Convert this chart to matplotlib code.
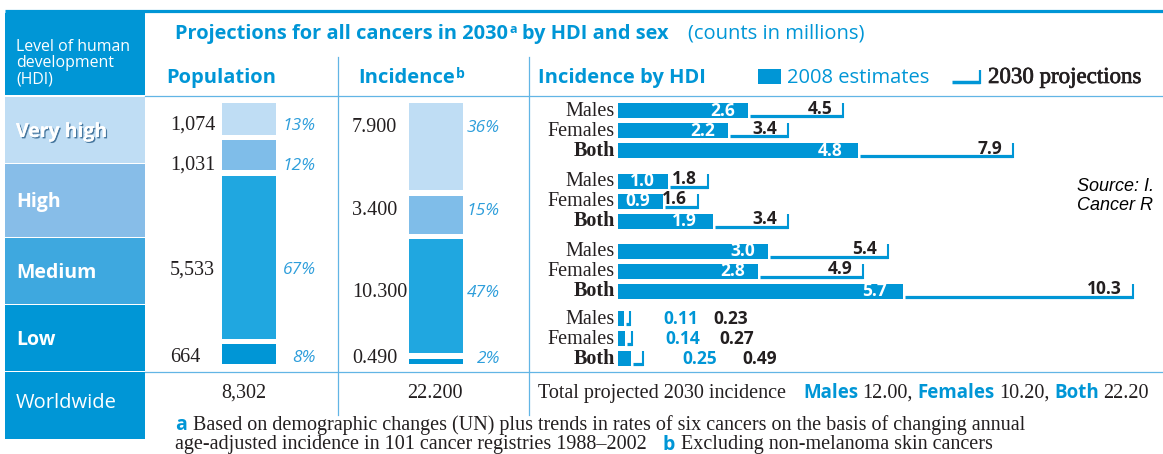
import matplotlib
matplotlib.use('Agg')
import matplotlib.pyplot as plt
import matplotlib.patheffects as pe
from matplotlib.patches import Rectangle
from matplotlib.transforms import blended_transform_factory

# -------------------------------------------------------------------
# DATA (counts in millions)
# -------------------------------------------------------------------
hdi_levels = ['Very high', 'High', 'Medium', 'Low']

pop_values = [1074, 1031, 5533, 664]
pop_labels = ['1,074', '1,031', '5,533', '664']
pop_share = ['13%', '12%', '67%', '8%']
pop_total = '8,302'

inc_values = [7.9, 3.4, 10.3, 0.49]
inc_labels = ['7.900', '3.400', '10.300', '0.490']
inc_share = ['36%', '15%', '47%', '2%']
inc_total = '22.200'

sexes = ['Males', 'Females', 'Both']
males_2008 = [2.6, 1.0, 3.0, 0.11]
females_2008 = [2.2, 0.9, 2.8, 0.14]
both_2008 = [4.8, 1.9, 5.7, 0.25]
males_2030 = [4.5, 1.8, 5.4, 0.23]
females_2030 = [3.4, 1.6, 4.9, 0.27]
both_2030 = [7.9, 3.4, 10.3, 0.49]

total_names = ['Males', 'Females', 'Both']
total_values = ['12.00', '10.20', '22.20']

# -------------------------------------------------------------------
# LAYOUT / STYLE
# -------------------------------------------------------------------
W, H = 1163, 454
BLUE = '#0096D6'
LINE = '#62B5E5'
INK = '#231F20'
PCT = '#2E9EDB'
BAND_COLORS = ['#BFDDF4', '#87BDE8', '#3EA8DF', '#0096D6']
BAR_COLORS = ['#BFDDF4', '#7FBDE9', '#20A7E0', '#0096D6']
BAND_EDGES = [96, 163, 237, 304, 371]
SANS = 'Open Sans'
SERIF = 'Liberation Serif'
SERIF_SIZE = 14.5
GAP = 5.5                      # px between stacked segments
POP_NUDGE = [11, 14.5, 17, 7.5]
INC_NUDGE = [-14.5, 0.5, 1, 2]
PX_PER_M = 50                  # px per million in the HDI bars
PITCH, BAR_H = 20, 15
LOW_BLUE_DX = [34, 34, 40]
LOW_BLACK_DX = [84, 88, 100]

fig = plt.figure(figsize=(W / 100, H / 100), dpi=100)
bg = fig.add_axes([0, 0, 1, 1])
bg.set_xlim(0, W)
bg.set_ylim(H, 0)
bg.axis('off')
renderer = fig.canvas.get_renderer()


def px_axes(x0, y0, x1, y1):
    ax = fig.add_axes([x0 / W, 1 - y1 / H, (x1 - x0) / W, (y1 - y0) / H])
    ax.axis('off')
    ax.set_facecolor('none')
    return ax


def runs(x, y, pieces):
    """Draw text pieces one after another on a common baseline."""
    for s, kw in pieces:
        kw = dict(kw)
        dy = kw.pop('dy', 0)
        x += kw.pop('gap', 0)
        t = bg.text(x, y + dy, s, ha='left', va='baseline', **kw)
        x += t.get_window_extent(renderer).width
    return x


title_kw = dict(family=SANS, weight='bold', size=14.4, color=BLUE)
sup_kw = dict(family=SANS, weight='bold', size=9, color=BLUE, dy=-6, gap=1)
head_kw = dict(family=SANS, weight='bold', size=14.5, color=BLUE)
serif_kw = dict(family=SERIF, size=SERIF_SIZE, color=INK)
fn_kw = dict(family=SANS, weight='bold', size=14, color=BLUE)

# -------------------------------------------------------------------
# frame: lines and left column
# -------------------------------------------------------------------
bg.plot([5, W], [10.5, 10.5], color=BLUE, lw=2.3, solid_capstyle='butt')
bg.plot([145, W], [95.5, 95.5], color=LINE, lw=0.9)
bg.plot([145, W], [371.5, 371.5], color=LINE, lw=0.9)
for xv in (338, 529):
    bg.plot([xv, xv], [57, 415], color=LINE, lw=0.9)

bg.add_patch(Rectangle((5, 13), 140, 82, color=BLUE, lw=0))
for s, yb in zip(['Level of human', 'development', '(HDI)'], [51, 67, 83]):
    bg.text(16, yb, s, family=SANS, size=11.4, color='white', va='baseline')

for i, lvl in enumerate(hdi_levels):
    top, bot = BAND_EDGES[i] + 0.5, BAND_EDGES[i + 1] - 0.5
    bg.add_patch(Rectangle((5, top), 140, bot - top, color=BAND_COLORS[i], lw=0))
    fx = []
    if i == 0:
        fx = [pe.withSimplePatchShadow(offset=(1, -1), shadow_rgbFace='#2B5F8A', alpha=0.8),
              pe.Normal()]
    bg.text(16, (top + bot) / 2 + 7.5, lvl, family=SANS, weight='bold', size=14,
            color='white', va='baseline', path_effects=fx)

bg.add_patch(Rectangle((5, 372), 140, 67, color=BLUE, lw=0))
bg.text(16, 408, 'Worldwide', family=SANS, size=14.5, color='white', va='baseline')

# -------------------------------------------------------------------
# titles and legend
# -------------------------------------------------------------------
runs(175, 39, [('Projections for all cancers in 2030', title_kw), ('a', sup_kw),
               ('by HDI and sex', dict(title_kw, gap=5))])
bg.text(688, 39, '(counts in millions)', family=SANS, size=14.5, color=BLUE, va='baseline')

runs(166, 83, [('Population', head_kw)])
runs(358, 83, [('Incidence', head_kw), ('b', dict(sup_kw, size=10, gap=1, dy=-5))])
runs(538, 83, [('Incidence by HDI', head_kw)])

bg.add_patch(Rectangle((758, 69), 23, 15, color=BLUE, lw=0))
bg.text(787, 83, '2008 estimates', family=SANS, size=14.5, color=BLUE, va='baseline')
bg.plot([952, 980], [81.5, 81.5], color=BLUE, lw=2.5, solid_capstyle='butt')
bg.plot([979.5, 979.5], [70, 84], color=BLUE, lw=1.6, solid_capstyle='butt')
bg.text(988, 83, '2030 projections', family=SERIF, size=16.5, color=INK, va='baseline',
        path_effects=[pe.withStroke(linewidth=0.5, foreground=INK)])


# -------------------------------------------------------------------
# stacked columns: population and incidence
# -------------------------------------------------------------------
def stacked(x0, x1, values, labels, shares, num_x, pct_x, nudges):
    ax = px_axes(x0, 103, x1, 364)
    gap = GAP * sum(values) / (261 - 3 * GAP)
    bottoms, b = [], 0
    for v in values:
        bottoms.append(b)
        b += v + gap
    ax.bar([0.5] * len(values), values, bottom=bottoms, width=1, color=BAR_COLORS, lw=0)
    ax.set_xlim(0, 1)
    ax.set_ylim(b - gap, 0)
    trans = blended_transform_factory(bg.transData, ax.transData)
    for v, b0, lab, sh, nd in zip(values, bottoms, labels, shares, nudges):
        yc = b0 + v / 2
        bg.annotate(lab, xy=(num_x, yc), xycoords=trans, xytext=(0, -nd),
                    textcoords='offset pixels', ha='left', va='baseline',
                    family=SERIF, size=SERIF_SIZE, color=INK, annotation_clip=False)
        bg.annotate(sh, xy=(pct_x, yc), xycoords=trans, xytext=(0, -nd),
                    textcoords='offset pixels', ha='right', va='baseline',
                    family=SANS, style='italic', size=12.5, color=PCT, annotation_clip=False)
    return ax


stacked(222, 276, pop_values, pop_labels, pop_share, 170, 316, POP_NUDGE)
stacked(409, 463, inc_values, inc_labels, inc_share, 352, 500, INC_NUDGE)

bg.text(244, 398, pop_total, family=SERIF, size=SERIF_SIZE, color=INK, ha='center', va='baseline')
bg.text(435, 398, inc_total, family=SERIF, size=SERIF_SIZE, color=INK, ha='center', va='baseline')

# -------------------------------------------------------------------
# incidence by HDI: 2008 bars + 2030 projection markers
# -------------------------------------------------------------------
ax_h = px_axes(618, 96, W, 371)
ax_h.set_xlim(0, (W - 618) / PX_PER_M)
ax_h.set_ylim(371, 96)

est = [males_2008, females_2008, both_2008]
proj = [males_2030, females_2030, both_2030]
val_kw = dict(family=SANS, weight='bold', size=12.5, textcoords='offset pixels',
              va='baseline', annotation_clip=False)

for g in range(len(hdi_levels)):
    yc = (BAND_EDGES[g] + BAND_EDGES[g + 1]) / 2 + 1
    for r, sex in enumerate(sexes):
        y = yc + (r - 1) * PITCH
        e, p = est[r][g], proj[r][g]
        ax_h.barh(y, e, height=BAR_H, color=BLUE, lw=0)
        ax_h.hlines(y + BAR_H / 2 - 2, e + 2 / PX_PER_M, p, color=BLUE, lw=2.3)
        ax_h.vlines(p, y - BAR_H / 2, y + BAR_H / 2, color=BLUE, lw=1.5)
        ax_h.annotate(sex, xy=(0, y), xytext=(-3, -5), textcoords='offset pixels',
                      ha='right', va='baseline', family=SERIF, size=SERIF_SIZE, color=INK,
                      weight='bold' if sex == 'Both' else 'normal', annotation_clip=False)
        if e >= 0.5:
            ax_h.annotate(f'{e:.1f}', xy=(e, y), xytext=(-13 if r < 2 else -16, -5),
                          ha='right', color='white', **val_kw)
            ax_h.annotate(f'{p:.1f}', xy=(p, y), xytext=(-11, -3),
                          ha='right', color=INK, **val_kw)
        else:
            ax_h.annotate(f'{e:.2f}', xy=(p, y), xytext=(LOW_BLUE_DX[r], -5),
                          ha='left', color=BLUE, **val_kw)
            ax_h.annotate(f'{p:.2f}', xy=(p, y), xytext=(LOW_BLACK_DX[r], -5),
                          ha='left', color=INK, **val_kw)

# source note, as far as it is visible at the right edge
src_kw = dict(family='Liberation Sans', style='italic', size=13, color='black', va='baseline')
bg.text(1077, 191, 'Source: I.', **src_kw)
bg.text(1077, 210, 'Cancer R', **src_kw)

# -------------------------------------------------------------------
# totals row and footnotes
# -------------------------------------------------------------------
tot_kw = dict(family=SANS, weight='bold', size=13.5, color=BLUE)
pieces = [('Total projected 2030 incidence', serif_kw)]
for i, (n, v) in enumerate(zip(total_names, total_values)):
    pieces.append((n, dict(tot_kw, gap=17 if i == 0 else 5)))
    pieces.append((v + (',' if i < len(total_values) - 1 else ''), dict(serif_kw, gap=4)))
runs(538, 398, pieces)

runs(175, 430, [('a', fn_kw),
                ('Based on demographic changes (UN) plus trends in rates of six cancers '
                 'on the basis of changing annual', dict(serif_kw, gap=6))])
runs(175, 449.5, [('age-adjusted incidence in 101 cancer registries 1988\u20132002', serif_kw),
                  ('b', dict(fn_kw, gap=16)),
                  ('Excluding non-melanoma skin cancers', dict(serif_kw, gap=6))])

fig.savefig('out.png', dpi=100)
